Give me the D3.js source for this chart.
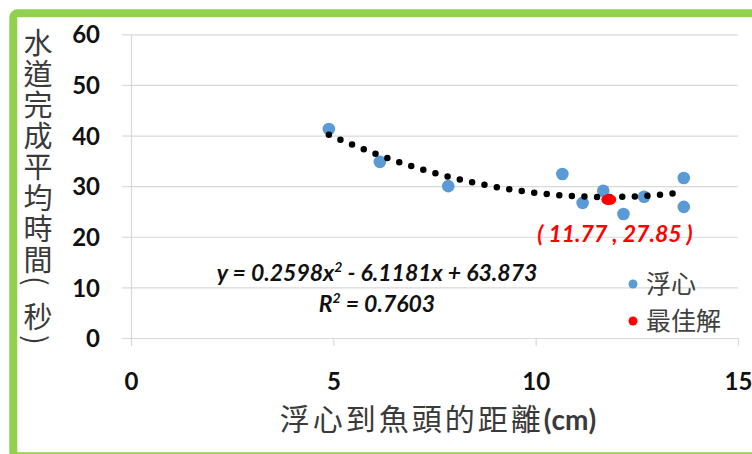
<!DOCTYPE html>
<html><head><meta charset="utf-8">
<script src="https://cdn.jsdelivr.net/npm/d3@7"></script>
<style>
html,body{margin:0;padding:0;background:#fff;}
svg{display:block;}
</style></head>
<body>
<svg id="chart" width="752" height="454"></svg>
<script>
// ---- data ----
const xValues = [4.89, 6.15, 7.84, 10.66, 11.16, 11.67, 12.17, 12.68, 13.66, 13.66];
const yValues = [41.3, 34.8, 30.0, 32.4, 26.7, 29.1, 24.5, 27.9, 31.6, 25.9];
const bestPoint = [11.77, 27.85];
const trendCoeffs = [0.2598, -6.1181, 63.873]; // a, b, c of y = ax^2 + bx + c
const xTicks = [0, 5, 10, 15];
const yTicks = [0, 10, 20, 30, 40, 50, 60];
const xTitle = "浮心到魚頭的距離";
const xTitleUnit = "(cm)";
const yTitle = "水道完成平均時間(秒)";
const legendLabels = ["浮心", "最佳解"];
const equationText = ["y = 0.2598x", "2", " - 6.1181x + 63.873"];
const r2Text = ["R", "2", " = 0.7603"];
const bestLabel = "( 11.77 , 27.85 )";

const svg = d3.select("#chart");
const W = 752, H = 454;
svg.append("rect").attr("width", W).attr("height", H).attr("fill", "#fff");

const x = d3.scaleLinear().domain([0, 15]).range([131, 738]);
const y = d3.scaleLinear().domain([0, 60]).range([338, 34.3]);

const gridColor = "#d9d9d9";
const numFont = "Lato, 'Open Sans', sans-serif";
const cjkFont = "'Noto Sans CJK TC', 'Noto Sans CJK SC', sans-serif";

// gridlines
svg.append("g").attr("transform", `translate(${x(0)},0)`)
  .call(d3.axisLeft(y).tickValues(yTicks).tickSize(-(x(15) - x(0))).tickFormat(""))
  .call(g => g.select(".domain").remove())
  .call(g => g.selectAll("line").attr("stroke", gridColor).attr("stroke-width", 1.2));

// y axis
svg.append("g").attr("transform", `translate(${x(0)},0)`)
  .call(d3.axisLeft(y).tickValues(yTicks).tickSizeInner(9).tickSizeOuter(0).tickPadding(22))
  .call(g => g.select(".domain").attr("stroke", gridColor).attr("stroke-width", 1.2))
  .call(g => g.selectAll("line").attr("stroke", gridColor).attr("stroke-width", 1.2))
  .call(g => g.selectAll("text").attr("font-family", numFont).attr("font-weight", "bold")
      .attr("font-size", 24).attr("fill", "#111").attr("dy", "0.36em"));

// x axis
svg.append("g").attr("transform", `translate(0,${y(0)})`)
  .call(d3.axisBottom(x).tickValues(xTicks).tickSizeInner(8).tickSizeOuter(0).tickPadding(0).tickFormat(d3.format("d")))
  .call(g => g.select(".domain").attr("stroke", gridColor).attr("stroke-width", 1.2))
  .call(g => g.selectAll("line").attr("stroke", gridColor).attr("stroke-width", 1.2))
  .call(g => g.selectAll("text").attr("font-family", numFont).attr("font-weight", "bold")
      .attr("font-size", 24).attr("fill", "#111").attr("y", 52).attr("dy", 0));

// axis titles
const xt = svg.append("text").attr("x", 438).attr("y", 430).attr("text-anchor", "middle")
  .attr("font-family", cjkFont).attr("font-size", 30).attr("fill", "#3a3a3a");
xt.append("tspan").attr("letter-spacing", 3).text(xTitle);
xt.append("tspan").attr("font-family", numFont).attr("font-weight", "bold").attr("font-size", 28).text(xTitleUnit);

const yt = svg.append("text").attr("x", 38).attr("y", 28)
  .attr("font-family", cjkFont).attr("font-size", 29).attr("fill", "#3a3a3a")
  .style("writing-mode", "vertical-rl");
Array.from(yTitle).forEach(ch => {
  const sp = ch === "(" ? 16 : (ch === "秒" ? 4 : (ch === ")" ? 0 : 2));
  yt.append("tspan").attr("letter-spacing", sp).text(ch);
});

// series points
svg.append("g").selectAll("circle").data(xValues.map((v, i) => [v, yValues[i]])).join("circle")
  .attr("cx", d => x(d[0])).attr("cy", d => y(d[1])).attr("r", 6.3).attr("fill", "#5b9bd5");

// trendline (from displayed equation)
const [a, b, c] = trendCoeffs;
const xMin = d3.min(xValues), xMax = d3.max(xValues);
const trendPts = d3.range(0, 101).map(i => {
  const xv = xMin + (xMax - xMin) * i / 100;
  return [xv, a * xv * xv + b * xv + c];
});
svg.append("path").datum(trendPts)
  .attr("d", d3.line().x(d => x(d[0])).y(d => y(d[1])).curve(d3.curveBasis))
  .attr("fill", "none").attr("stroke", "#000").attr("stroke-width", 6.5)
  .attr("stroke-linecap", "round").attr("stroke-dasharray", "0 12.6");

// best point
svg.append("ellipse").attr("cx", x(bestPoint[0]) + 1.5).attr("cy", y(bestPoint[1]) + 2.5)
  .attr("rx", 7.5).attr("ry", 5.5).attr("fill", "#ff0000");
svg.append("text").attr("x", 615).attr("y", 242).attr("text-anchor", "middle")
  .attr("font-family", numFont).attr("font-weight", "bold").attr("font-style", "italic")
  .attr("font-size", 23).attr("fill", "#ff0000").attr("xml:space", "preserve").text(bestLabel);

// equation
function supText(parts, yy) {
  const t = svg.append("text").attr("x", 377).attr("y", yy).attr("text-anchor", "middle")
    .attr("font-family", numFont).attr("font-weight", "bold").attr("font-style", "italic")
    .attr("font-size", 23).attr("fill", "#111");
  t.append("tspan").text(parts[0]);
  t.append("tspan").attr("dy", -9).attr("font-size", 14).text(parts[1]);
  t.append("tspan").attr("dy", 9).text(parts[2]);
}
supText(equationText, 281);
supText(r2Text, 312);

// legend
const legColors = ["#5b9bd5", "#ff0000"];
const legY = [284, 321];
legendLabels.forEach((lab, i) => {
  svg.append("circle").attr("cx", 633).attr("cy", legY[i]).attr("r", 4.5).attr("fill", legColors[i]);
  svg.append("text").attr("x", 646).attr("y", legY[i] + 9).attr("font-family", cjkFont)
    .attr("font-size", 25).attr("fill", "#404040").text(lab);
});

// green frame
svg.append("rect").attr("x", 13.3).attr("y", 13.3).attr("width", 820).attr("height", 443)
  .attr("rx", 4).attr("fill", "none").attr("stroke", "#92d050").attr("stroke-width", 8);
</script>
</body></html>
